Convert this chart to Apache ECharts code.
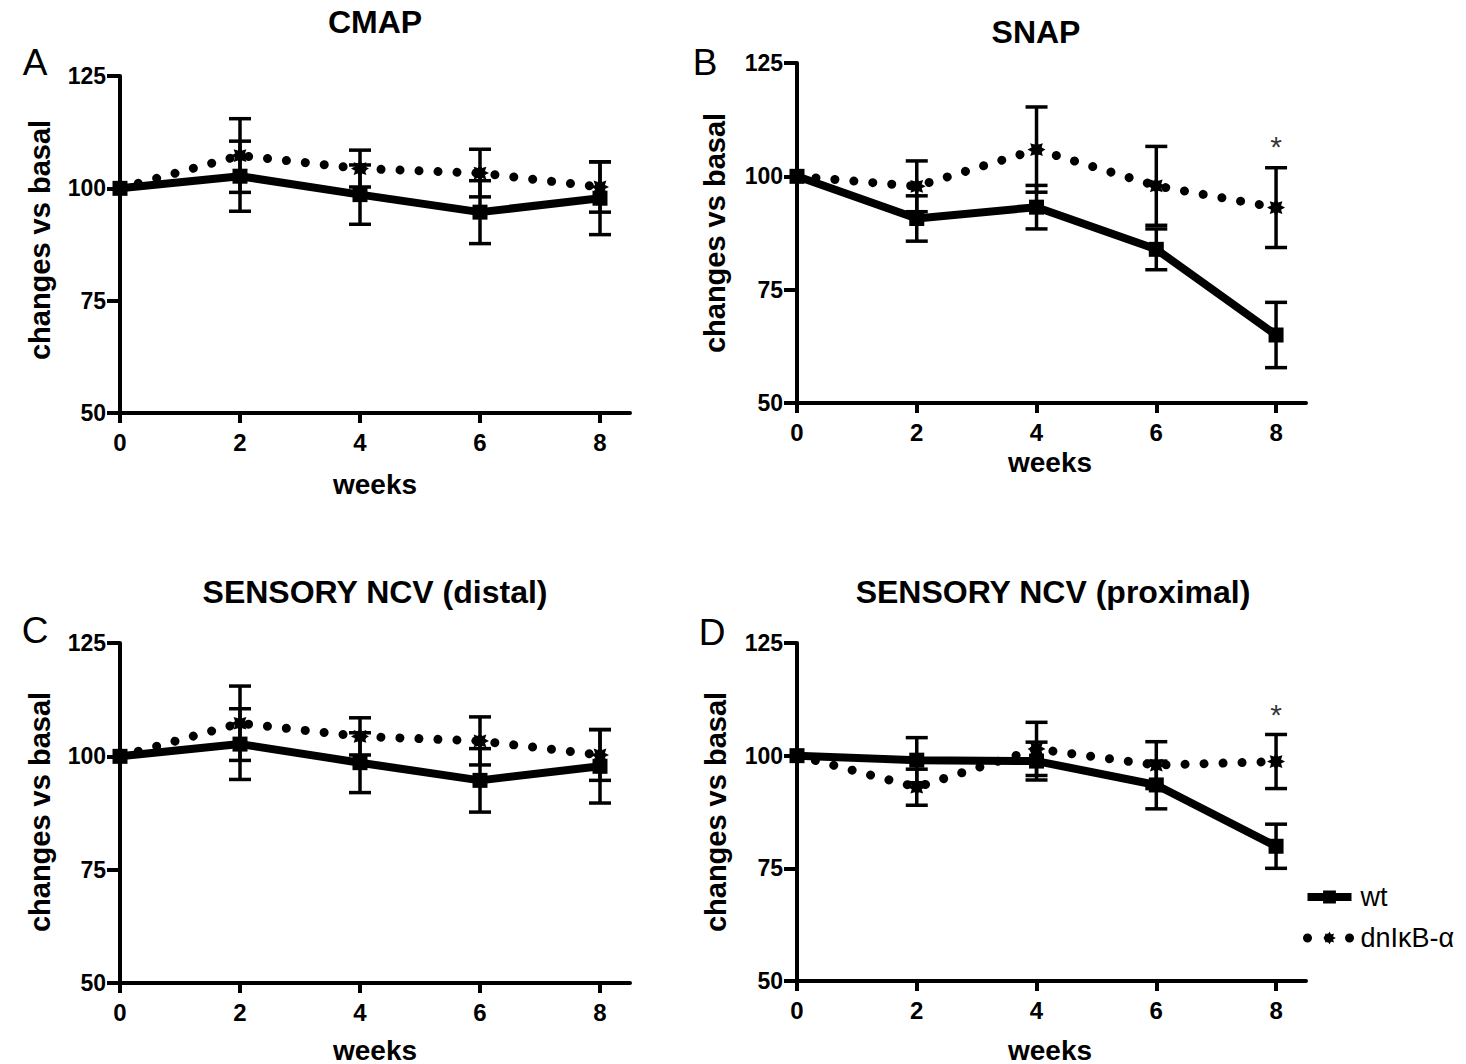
<!DOCTYPE html>
<html>
<head>
<meta charset="utf-8">
<script src="https://cdn.jsdelivr.net/npm/echarts@6/dist/echarts.min.js"></script>
<style>
html,body{margin:0;padding:0;background:#fff;}
#chart{width:1466px;height:1064px;}
</style>
</head>
<body>
<div id="chart"></div>
<script>
// ---------------- data ----------------
const weeks = [0, 2, 4, 6, 8];
const xTicks = [0, 2, 4, 6, 8];
const yTicks = [50, 75, 100, 125];

// A: CMAP
const cmapWt = [100, 102.7, 98.6, 94.7, 97.8];
const cmapWtErr = [0, 7.8, 6.6, 7.0, 8.1];
const cmapDn = [100, 107.3, 104.4, 103.4, 100.3];
const cmapDnErr = [0, 8.2, 4.1, 5.3, 5.6];

// B: SNAP
const snapWt = [100, 90.7, 93.2, 83.9, 65.0];
const snapWtErr = [0, 5.0, 4.8, 4.5, 7.2];
const snapDn = [100, 97.8, 105.9, 97.9, 93.1];
const snapDnErr = [0, 5.6, 9.4, 8.7, 8.8];
const snapSig = [[8, 107.5]];

// C: SENSORY NCV (distal)
const distalWt = [100, 102.7, 98.6, 94.7, 97.8];
const distalWtErr = [0, 7.8, 6.6, 7.0, 8.1];
const distalDn = [100, 107.3, 104.4, 103.4, 100.3];
const distalDnErr = [0, 8.2, 4.1, 5.3, 5.6];

// D: SENSORY NCV (proximal)
const proxWt = [100, 99.0, 98.8, 93.5, 79.9];
const proxWtErr = [0, 5.0, 4.2, 5.3, 4.9];
const proxDn = [100, 93.0, 101.5, 97.9, 98.7];
const proxDnErr = [0, 4.0, 5.9, 5.2, 6.0];
const proxSig = [[8, 110]];

const titles = ['CMAP', 'SNAP', 'SENSORY NCV (distal)', 'SENSORY NCV (proximal)'];
const letters = ['A', 'B', 'C', 'D'];
const seriesNames = ['wt', 'dnI\u03baB-\u03b1'];
const yName = 'changes vs basal';
const xName = 'weeks';

// ---------------- styling / layout ----------------
const FONT = '"Liberation Sans", Arial, Helvetica, sans-serif';
const grids = [
  {left: 120, top: 76, width: 510, height: 337},
  {left: 797, top: 63, width: 509, height: 340},
  {left: 120, top: 643, width: 510, height: 340},
  {left: 797, top: 643, width: 509, height: 338}
];
const titlePos = [[375, 22], [1036, 32], [375, 592], [1053, 592]];
const letterPos = [[35, 62], [705, 62], [35, 630], [712, 632]];
const yNamePos = [[40, 240], [715, 233], [40, 812], [716, 812]];
const xNamePos = [[375, 484], [1050, 462], [375, 1050], [1050, 1050]];

function starPath(n, rOut, rIn) {
  let d = '';
  for (let i = 0; i < 2 * n; i++) {
    const r = i % 2 ? rIn : rOut;
    const a = i * Math.PI / n - Math.PI / 2;
    d += (i ? 'L' : 'M') + (50 + r * Math.cos(a)).toFixed(2) + ' ' + (50 + r * Math.sin(a)).toFixed(2) + ' ';
  }
  return 'path://' + d + 'Z';
}
const STAR = starPath(8, 50, 30);

const panels = [
  {wt: cmapWt, wtErr: cmapWtErr, dn: cmapDn, dnErr: cmapDnErr, sig: null},
  {wt: snapWt, wtErr: snapWtErr, dn: snapDn, dnErr: snapDnErr, sig: snapSig},
  {wt: distalWt, wtErr: distalWtErr, dn: distalDn, dnErr: distalDnErr, sig: null},
  {wt: proxWt, wtErr: proxWtErr, dn: proxDn, dnErr: proxDnErr, sig: proxSig}
];

function errData(mean, err) {
  const out = [];
  mean.forEach((m, i) => { if (err[i] > 0) out.push([weeks[i], m - err[i], m + err[i]]); });
  return out;
}

function errRender(params, api) {
  const x = api.value(0);
  const lo = api.coord([x, api.value(1)]);
  const hi = api.coord([x, api.value(2)]);
  const hw = 11;
  const st = {stroke: '#000', lineWidth: 3.5};
  return {
    type: 'group',
    children: [
      {type: 'line', shape: {x1: hi[0], y1: hi[1], x2: lo[0], y2: lo[1]}, style: st},
      {type: 'line', shape: {x1: hi[0] - hw, y1: hi[1], x2: hi[0] + hw, y2: hi[1]}, style: st},
      {type: 'line', shape: {x1: lo[0] - hw, y1: lo[1], x2: lo[0] + hw, y2: lo[1]}, style: st}
    ]
  };
}

const DOTS = {color: '#000', width: 9, type: [0.01, 19], cap: 'round'};

const xAxes = [], yAxes = [], series = [], graphics = [];
panels.forEach((p, k) => {
  xAxes.push({
    type: 'value', gridIndex: k, min: 0, max: 8.5, interval: 2,
    axisLine: {onZero: false, lineStyle: {color: '#000', width: 4}},
    axisTick: {show: true, length: 10, lineStyle: {color: '#000', width: 4}, customValues: xTicks},
    axisLabel: {color: '#000', fontFamily: FONT, fontWeight: 'bold', fontSize: 24, margin: 17, customValues: xTicks},
    splitLine: {show: false}
  });
  yAxes.push({
    type: 'value', gridIndex: k, min: 50, max: 125, interval: 25,
    axisLine: {show: true, lineStyle: {color: '#000', width: 4}},
    axisTick: {show: true, length: 13, lineStyle: {color: '#000', width: 4}, customValues: yTicks},
    axisLabel: {color: '#000', fontFamily: FONT, fontWeight: 'bold', fontSize: 23, margin: 14, customValues: yTicks},
    splitLine: {show: false}
  });
  series.push({
    name: seriesNames[0], type: 'line', xAxisIndex: k, yAxisIndex: k,
    data: weeks.map((w, i) => [w, p.wt[i]]),
    symbol: 'rect', symbolSize: 15,
    lineStyle: {color: '#000', width: 8},
    itemStyle: {color: '#000'},
    z: 3, animation: false
  });
  series.push({
    name: seriesNames[1], type: 'line', xAxisIndex: k, yAxisIndex: k,
    data: weeks.map((w, i) => [w, p.dn[i]]),
    symbol: STAR, symbolSize: 18,
    lineStyle: DOTS,
    itemStyle: {color: '#000'},
    z: 3, animation: false
  });
  series.push({
    type: 'custom', xAxisIndex: k, yAxisIndex: k,
    data: errData(p.wt, p.wtErr).concat(errData(p.dn, p.dnErr)),
    encode: {x: 0, y: [1, 2]},
    renderItem: errRender, z: 4, animation: false, silent: true
  });
  if (p.sig) {
    series.push({
      type: 'scatter', xAxisIndex: k, yAxisIndex: k, data: p.sig,
      symbolSize: 1, itemStyle: {color: 'transparent'},
      label: {show: true, position: 'inside', formatter: '*', color: '#000', fontFamily: FONT, fontSize: 30, offset: [0, 4]},
      animation: false, silent: true
    });
  }
  graphics.push({type: 'text', x: titlePos[k][0], y: titlePos[k][1],
    style: {text: titles[k], fill: '#000', font: 'bold 32px ' + FONT, textAlign: 'center', textVerticalAlign: 'middle'}});
  graphics.push({type: 'text', x: letterPos[k][0], y: letterPos[k][1],
    style: {text: letters[k], fill: '#000', font: '37px ' + FONT, textAlign: 'center', textVerticalAlign: 'middle'}});
  graphics.push({type: 'text', x: yNamePos[k][0], y: yNamePos[k][1], rotation: Math.PI / 2,
    style: {text: yName, fill: '#000', font: 'bold 29px ' + FONT, textAlign: 'center', textVerticalAlign: 'middle'}});
  graphics.push({type: 'text', x: xNamePos[k][0], y: xNamePos[k][1],
    style: {text: xName, fill: '#000', font: 'bold 28px ' + FONT, textAlign: 'center', textVerticalAlign: 'middle'}});
});

const chart = echarts.init(document.getElementById('chart'), null, {renderer: 'svg'});
chart.setOption({
  backgroundColor: '#fff',
  animation: false,
  grid: grids.map(g => Object.assign({containLabel: false}, g)),
  xAxis: xAxes,
  yAxis: yAxes,
  series: series,
  legend: {
    data: [
      {name: seriesNames[0], lineStyle: {color: '#000', width: 8}, itemStyle: {color: '#000'}},
      {name: seriesNames[1], lineStyle: {color: '#000', width: 9, type: [0.01, 21], cap: 'round'}, itemStyle: {color: '#000'}}
    ],
    orient: 'vertical', left: 1303, top: 881, padding: 0,
    itemWidth: 44, itemHeight: 16, itemGap: 9,
    textStyle: {color: '#000', fontFamily: FONT, fontSize: 27, lineHeight: 32, padding: [0, 0, 0, 4]}
  },
  graphic: graphics
});
</script>
</body>
</html>
